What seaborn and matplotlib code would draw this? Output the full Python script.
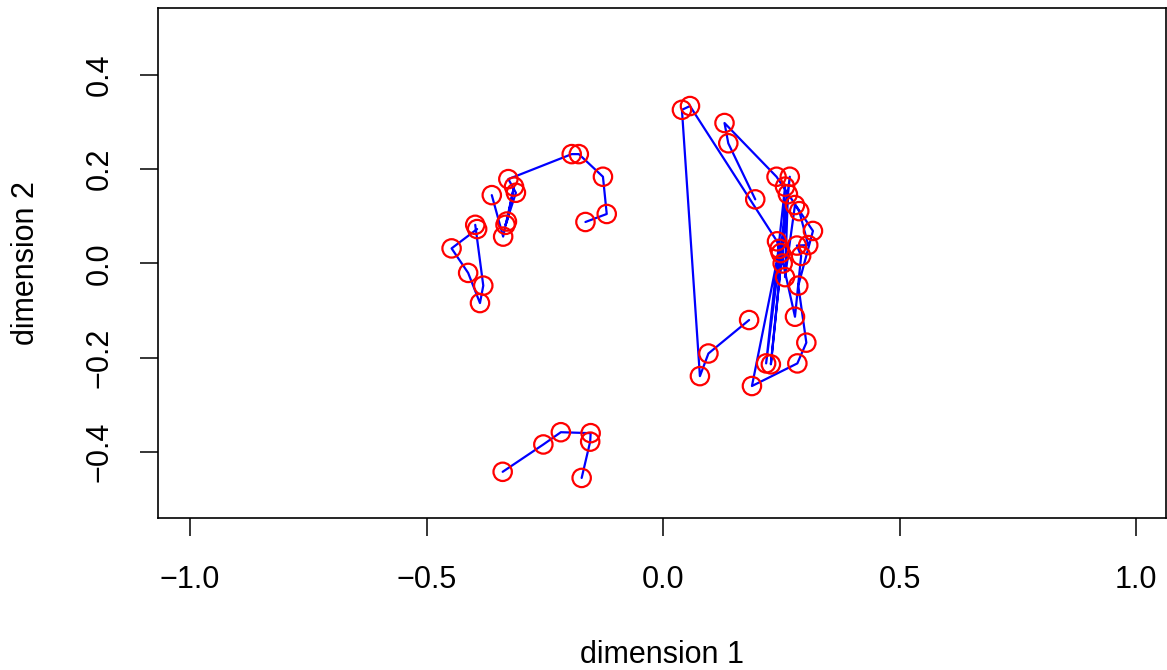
import matplotlib
matplotlib.use("Agg")
import matplotlib.pyplot as plt
import seaborn as sns
import pandas as pd

# Trajectory segments in the 2-D embedding (dimension 1, dimension 2)
seg1_x = [-0.393, -0.447, -0.412, -0.387, -0.380, -0.397]
seg1_y = [0.073, 0.032, -0.020, -0.084, -0.047, 0.082]

seg2_x = [-0.362, -0.338, -0.315, -0.330, -0.333, -0.311, -0.327,
          -0.193, -0.178, -0.127, -0.119, -0.164]
seg2_y = [0.145, 0.057, 0.163, 0.089, 0.082, 0.150, 0.179,
          0.232, 0.232, 0.184, 0.105, 0.088]

seg3_x = [-0.339, -0.253, -0.216, -0.153, -0.154, -0.172]
seg3_y = [-0.442, -0.384, -0.358, -0.360, -0.378, -0.455]

seg4_x = [0.182, 0.096, 0.078, 0.040, 0.057, 0.241, 0.253, 0.258,
          0.218, 0.268, 0.228, 0.264, 0.258, 0.279, 0.288, 0.307,
          0.283, 0.292, 0.279, 0.249, 0.246, 0.188, 0.284, 0.303,
          0.286, 0.317, 0.240, 0.130, 0.138, 0.195]
seg4_y = [-0.120, -0.191, -0.239, 0.326, 0.334, 0.047, 0.000, 0.163,
          -0.212, 0.184, -0.214, 0.147, -0.029, 0.124, 0.111, 0.039,
          0.038, 0.016, -0.113, 0.022, 0.031, -0.260, -0.212, -0.168,
          -0.047, 0.069, 0.184, 0.298, 0.255, 0.136]

x_ticks = [-1.0, -0.5, 0.0, 0.5, 1.0]
y_ticks = [-0.4, -0.2, 0.0, 0.2, 0.4]

frames = []
for i, (xs, ys) in enumerate([(seg1_x, seg1_y), (seg2_x, seg2_y),
                              (seg3_x, seg3_y), (seg4_x, seg4_y)]):
    frames.append(pd.DataFrame({"dim1": xs, "dim2": ys, "seg": i,
                                "order": range(len(xs))}))
df = pd.concat(frames, ignore_index=True)

sns.set_theme(style="ticks")
plt.rcParams["font.family"] = ["Liberation Sans", "DejaVu Sans"]
plt.rcParams["axes.unicode_minus"] = True
plt.rcParams["text.color"] = "black"
plt.rcParams["axes.labelcolor"] = "black"

fig = plt.figure(figsize=(11.67, 6.70), dpi=100)
ax = fig.add_axes([158 / 1167, (670 - 518) / 670, (1166 - 158) / 1167, (518 - 8) / 670])

sns.lineplot(data=df, x="dim1", y="dim2", units="seg", estimator=None,
             sort=False, color="blue", linewidth=1.6, ax=ax, zorder=2)
sns.scatterplot(data=df, x="dim1", y="dim2", marker="o", s=175,
                facecolors="none", edgecolors="red", linewidth=1.6,
                ax=ax, zorder=3)

ax.set_xlim(-1.0677, 1.0634)
ax.set_ylim(-0.540, 0.542)
ax.set_xticks(x_ticks)
ax.set_yticks(y_ticks)
ax.set_xticklabels([f"{v:.1f}".replace("-", "\u2212") for v in x_ticks])
ax.set_yticklabels([f"{v:.1f}".replace("-", "\u2212") for v in y_ticks],
                   rotation=90, va="center")

ax.tick_params(axis="both", direction="out", length=13, width=1.1,
               color="black", labelsize=22, labelcolor="black")
ax.tick_params(axis="x", pad=21)
ax.tick_params(axis="y", pad=18)
for side in ["left", "right", "top", "bottom"]:
    ax.spines[side].set_visible(True)
    ax.spines[side].set_color("black")
    ax.spines[side].set_linewidth(1.2)

ax.set_xlabel("dimension 1", fontsize=22, labelpad=32, color="black")
ax.set_ylabel("dimension 2", fontsize=22, labelpad=32, color="black")

fig.savefig("out.png", dpi=100)
